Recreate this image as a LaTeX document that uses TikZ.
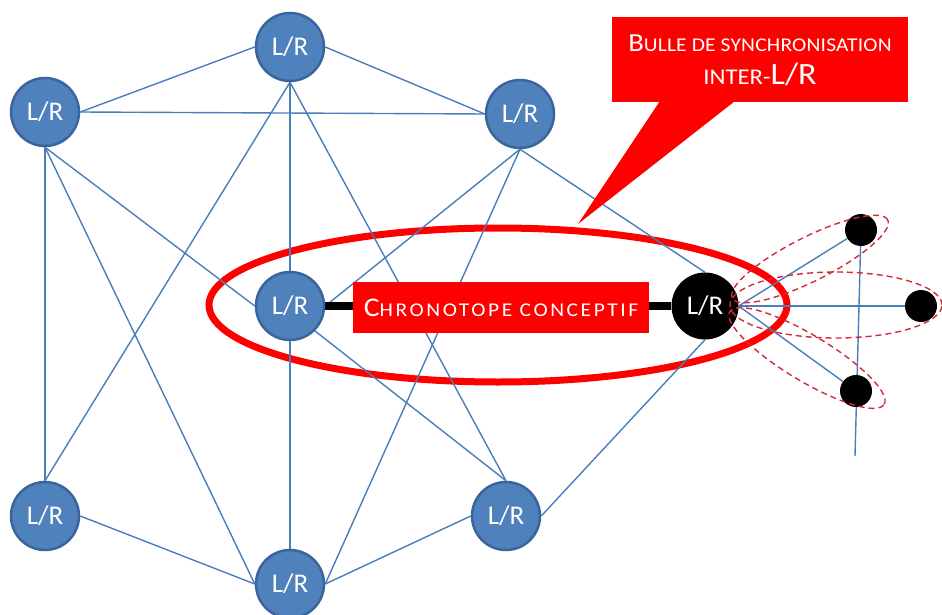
\documentclass[tikz,border=0pt]{standalone}
\usepackage{fontspec}
\setmainfont{Carlito}
\usetikzlibrary{backgrounds}
\definecolor{nodeblue}{HTML}{4F81BD}
\definecolor{nodeedge}{HTML}{3A659C}
\definecolor{linkblue}{HTML}{4A7EBB}
\definecolor{dashred}{HTML}{D42A3A}
\definecolor{alertred}{HTML}{FF0000}
\newcommand\scSize[2]{{\fontsize{#1pt}{#1pt}\selectfont #2}}
\begin{document}
\begin{tikzpicture}[x=1pt,y=-1pt,
  lr/.style={circle, fill=nodeblue, draw=nodeedge, line width=2.5pt, minimum size=68pt, inner sep=0pt, text=white, font=\fontsize{27}{27}\selectfont},
  blk/.style={circle, fill=black, minimum size=67pt, inner sep=0pt, text=white, font=\fontsize{27}{27}\selectfont},
  dot/.style={circle, fill=black, minimum size=32pt, inner sep=0pt},
  link/.style={draw=linkblue, line width=1.4pt},
  dsh/.style={draw=dashred, line width=1.4pt, dash pattern=on 6pt off 4pt},
  redbox/.style={fill=alertred, inner sep=0pt, text=white},
]
\useasboundingbox (0,0) rectangle (942,615);

% nodes
\node[lr] (T)   at (290,47)  {L/R};
\node[lr] (LT)  at (45,112)  {L/R};
\node[lr] (RT)  at (520,114) {L/R};
\node[lr] (C)   at (290,306) {L/R};
\node[lr] (LB)  at (45,516)  {L/R};
\node[lr] (RB)  at (506,516) {L/R};
\node[lr] (Bot) at (290,584) {L/R};
\node[blk] (B)  at (705,306) {L/R};
\node[dot] (D1) at (861,230) {};
\node[dot] (D2) at (921,306) {};
\node[dot] (D3) at (856,391) {};
\coordinate (Dend) at (855,456);

\begin{scope}[on background layer]
  % synchronisation ellipse
  \draw[alertred, line width=7pt] (498,305) ellipse [x radius=289pt, y radius=77pt];
  % links
  \draw[link] (T.west) -- (LT.east);
  \draw[link] (T.east) -- (RT.west);
  \draw[link] (LT.east) -- (RT.west);
  \draw[link] (T.south) -- (C.north);
  \draw[link] (T.south) -- (LB.north);
  \draw[link] (T.south) -- (RB.north);
  \draw[link] (LT.south) -- (LB.north);
  \draw[link] (LT.south) -- (Bot.west);
  \draw[link] (LT.south) -- (C.west);
  \draw[link] (RT.south) -- (C.east);
  \draw[link] (RT.south) -- (Bot.east);
  \draw[link] (RT.south) -- (B.north);
  \draw[link] (C.south) -- (Bot.north);
  \draw[link] (C.south east) -- (RB.north);
  \draw[link] (LB.east) -- (Bot.west);
  \draw[link] (Bot.east) -- (RB.west);
  \draw[link] (RB.east) -- (B.south);
  \draw[link] (D1) -- (Dend);
  \draw[link] (B.east) -- (D1);
  \draw[link] (B.east) -- (D2);
  \draw[link] (B.east) -- (D3);
  % thick link
  \draw[black, line width=8pt] (C.east) -- (B.west);
\end{scope}

% chronotope label
\node[redbox, minimum width=296pt, minimum height=51pt] (CC) at (501,307.5)
  {\scalebox{1.1}[1]{\addfontfeatures{LetterSpace=12}\scSize{27}{C}\scSize{19.5}{HRONOTOPE CONCEPTIF}}};

% callout bubble
\node[redbox, minimum width=296pt, minimum height=85pt] (BUB) at (760,59.5) {};
\fill[alertred] ([xshift=48pt,yshift=1pt]BUB.south west) -- (578,224) -- ([xshift=123pt,yshift=1pt]BUB.south west) -- cycle;
\node[anchor=base, text=white, inner sep=0pt] (BUB1) at (760,52)
  {\scalebox{1.1}[1]{\addfontfeatures{LetterSpace=1}\scSize{26}{B}\scSize{19.5}{ULLE DE SYNCHRONISATION}}};
\node[anchor=base, text=white, inner sep=0pt] (BUB2) at (760,85)
  {\scalebox{1.1}[1]{\scSize{22.5}{INTER-}\scSize{31}{L/R}}};

% dashed bubbles
\draw[dsh] (810,259) ellipse [x radius=87pt, y radius=22pt, rotate=26.7];
\draw[dsh] (836,305) ellipse [x radius=106pt, y radius=33pt];
\draw[dsh] (807,358) ellipse [x radius=90pt, y radius=23pt, rotate=-31];
\end{tikzpicture}
\end{document}
